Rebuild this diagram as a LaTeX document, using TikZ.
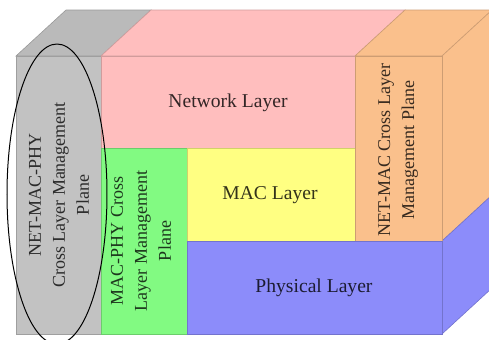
\documentclass[tikz,border=0pt]{standalone}
\usepackage{fontspec}
\setmainfont{Liberation Serif}
\usepackage{tikz}

\definecolor{planegray}{RGB}{194,194,194}
\definecolor{netpink}{RGB}{255,190,190}
\definecolor{phygreen}{RGB}{130,250,130}
\definecolor{macyellow}{RGB}{255,255,130}
\definecolor{phyblue}{RGB}{140,140,250}
\definecolor{netorange}{RGB}{250,192,140}

\tikzset{
  face/.style={fill=#1, draw=#1!82!black, line width=0.3pt},
  toplabel/.style={text=#1!20!black, font=\fontsize{9.8}{12}\selectfont},
  sidelabel/.style={rotate=90, align=center, text=#1!22!black, font=\fontsize{9}{12}\selectfont}
}

\begin{document}
\begin{tikzpicture}[x=0.5pt, y=-0.5pt]
  \useasboundingbox (0,0) rectangle (489,339);
  \clip (0,0) rectangle (489,339);

  % top faces
  \draw[face=planegray!96!black] (16,56) -- (66,10) -- (151,10) -- (101,56) -- cycle;
  \draw[face=netpink] (101,56) -- (151,10) -- (405,10) -- (355,56) -- cycle;
  \draw[face=netorange] (355,56) -- (405,10) -- (492,10) -- (442,56) -- cycle;

  % right faces
  \draw[face=netorange] (442,56) -- (492,10) -- (492,195) -- (442,241) -- cycle;
  \draw[face=phyblue] (442,241) -- (492,195) -- (492,288) -- (442,334) -- cycle;

  % front faces
  \draw[face=planegray] (16,56) rectangle (101,334);
  \draw[face=netpink] (101,56) rectangle (355,148);
  \draw[face=phygreen] (101,148) rectangle (187,334);
  \draw[face=macyellow] (187,148) rectangle (355,241);
  \draw[face=netorange] (355,56) rectangle (442,241);
  \draw[face=phyblue] (187,241) rectangle (442,334);

  % the cross layer plane is circled
  \draw[line width=0.5pt] (57,194) ellipse [x radius=50, y radius=150];

  \node[toplabel=netpink] (net) at (228,103) {Network Layer};
  \node[toplabel=macyellow] (mac) at (270,195) {MAC Layer};
  \node[toplabel=phyblue] (phy) at (314,288) {Physical Layer};

  \node[sidelabel=planegray] (netmacphy) at (59,195) {NET-MAC-PHY\\Cross Layer Management\\Plane};
  \node[sidelabel=phygreen] (macphy) at (141,241) {MAC-PHY Cross\\Layer Management\\Plane};
  \node[sidelabel=netorange] (netmac) at (398,150) {NET-MAC Cross Layer\\Management Plane};
\end{tikzpicture}
\end{document}
